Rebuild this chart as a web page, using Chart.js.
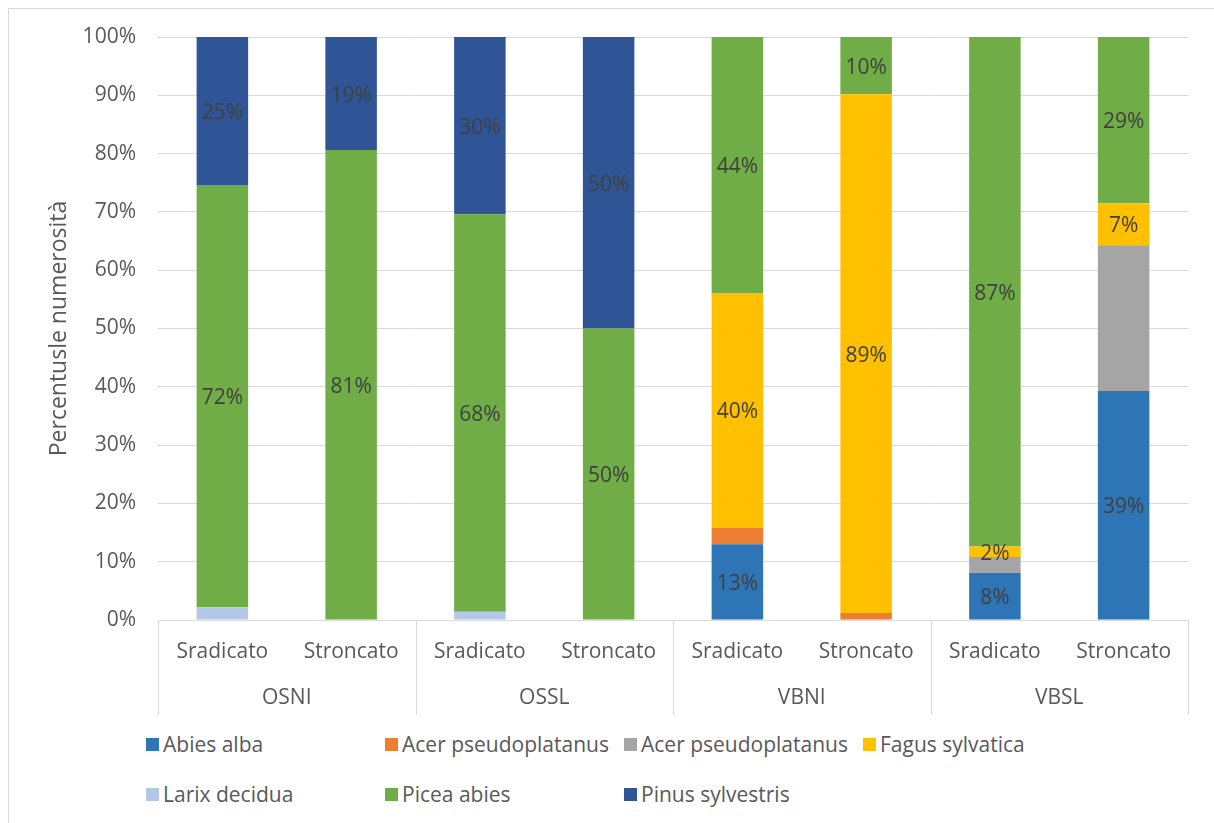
<!DOCTYPE html>
<html lang="it">
<head>
  <meta charset="UTF-8" />
  <title>Percentuale numerosità per specie</title>
  <script src="https://cdn.jsdelivr.net/npm/chart.js"></script>
  <style>
    body {
      margin: 0;
      background: #fff;
      font-family: 'Open Sans', sans-serif;
    }
    .page {
      position: relative;
      width: 1214px;
      height: 823px;
      overflow: hidden;
    }
    .frame {
      position: absolute;
      left: 8px;
      top: 8px;
      width: 1300px;
      height: 900px;
      border-left: 1px solid #d9d9d9;
      border-top: 1px solid #d9d9d9;
    }
    .chart-box {
      position: absolute;
      left: 0;
      top: 0;
      width: 1214px;
      height: 720px;
    }
    #legend {
      position: absolute;
      left: 146px;
      top: 730px;
      display: grid;
      grid-template-columns: repeat(4, 239px);
      row-gap: 22px;
      color: #595959;
      font-size: 21px;
    }
    #legend .item {
      display: flex;
      align-items: center;
      height: 28px;
      white-space: nowrap;
    }
    #legend .swatch {
      width: 13px;
      height: 13px;
      margin-right: 4px;
    }
  </style>
</head>
<body>
  <div class="page">
    <div class="frame"></div>
    <div class="chart-box"><canvas id="chart"></canvas></div>
    <div id="legend"></div>
  </div>

  <script>
    // Siti e tipo di danno
    const groups = ['OSNI', 'OSSL', 'VBNI', 'VBSL'];
    const damage = ['Sradicato', 'Stroncato'];
    const categories = groups.flatMap(() => damage);

    // Percentuali per specie (ordine: OSNI Sr, OSNI St, OSSL Sr, OSSL St, VBNI Sr, VBNI St, VBSL Sr, VBSL St)
    const abiesAlba    = [0, 0, 0, 0, 13.0, 0, 8.1, 39.3];
    const acerOrange   = [0, 0, 0, 0, 2.8, 1.2, 0, 0];
    const acerGray     = [0, 0, 0, 0, 0, 0, 2.7, 25.0];
    const fagus        = [0, 0, 0, 0, 40.3, 89.0, 1.8, 7.2];
    const larix        = [2.2, 0, 1.4, 0, 0, 0, 0, 0];
    const picea        = [72.4, 80.6, 68.2, 50, 43.9, 9.8, 87.4, 28.5];
    const pinus        = [25.4, 19.4, 30.4, 50, 0, 0, 0, 0];

    const yTicks = [0, 10, 20, 30, 40, 50, 60, 70, 80, 90, 100];

    const series = [
      { label: 'Abies alba',          data: abiesAlba,  color: '#2e75b6', labels: true },
      { label: 'Acer pseudoplatanus', data: acerOrange, color: '#ed7d31', labels: false },
      { label: 'Acer pseudoplatanus', data: acerGray,   color: '#a5a5a5', labels: false },
      { label: 'Fagus sylvatica',     data: fagus,      color: '#ffc000', labels: true },
      { label: 'Larix decidua',       data: larix,      color: '#b4c7e7', labels: false },
      { label: 'Picea abies',         data: picea,      color: '#70ad47', labels: true },
      { label: 'Pinus sylvestris',    data: pinus,      color: '#2f5597', labels: true }
    ];

    const FONT = "'Open Sans', sans-serif";

    // Etichette percentuali al centro dei segmenti
    const valueLabels = {
      id: 'valueLabels',
      afterDatasetsDraw(chart) {
        const ctx = chart.ctx;
        ctx.save();
        ctx.font = `21px ${FONT}`;
        ctx.fillStyle = '#404040';
        ctx.textAlign = 'center';
        ctx.textBaseline = 'middle';
        chart.data.datasets.forEach((ds, di) => {
          if (!series[di].labels) return;
          chart.getDatasetMeta(di).data.forEach((bar, i) => {
            const v = ds.data[i];
            if (!v) return;
            const y = (bar.y + bar.base) / 2 + 2;
            ctx.fillText(Math.round(v) + '%', bar.x, y);
          });
        });
        ctx.restore();
      }
    };

    // Secondo livello dell'asse x: siti e separatori
    const groupAxis = {
      id: 'groupAxis',
      afterDraw(chart) {
        const ctx = chart.ctx;
        const x = chart.scales.x;
        const step = (x.right - x.left) / categories.length * damage.length;
        ctx.save();
        ctx.strokeStyle = '#d9d9d9';
        ctx.lineWidth = 1;
        for (let k = 0; k <= groups.length; k++) {
          const px = Math.round(x.left + k * step) + 0.5;
          ctx.beginPath();
          ctx.moveTo(px, x.top);
          ctx.lineTo(px, x.top + 95);
          ctx.stroke();
        }
        ctx.font = `21px ${FONT}`;
        ctx.fillStyle = '#595959';
        ctx.textAlign = 'center';
        ctx.textBaseline = 'middle';
        groups.forEach((g, k) => {
          ctx.fillText(g, x.left + (k + 0.5) * step, x.top + 78);
        });
        ctx.restore();
      }
    };

    new Chart(document.getElementById('chart'), {
      type: 'bar',
      data: {
        labels: categories,
        datasets: series.map(s => ({
          label: s.label,
          data: s.data,
          backgroundColor: s.color,
          borderWidth: 0,
          categoryPercentage: 1,
          barPercentage: 0.4
        }))
      },
      options: {
        responsive: true,
        maintainAspectRatio: false,
        animation: false,
        layout: { padding: { top: 37, right: 26, bottom: 0, left: 0 } },
        plugins: {
          legend: { display: false },
          tooltip: { enabled: false }
        },
        scales: {
          x: {
            stacked: true,
            grid: { display: false, drawTicks: false },
            border: { display: true, color: '#d9d9d9', width: 1 },
            ticks: {
              color: '#595959',
              font: { family: FONT, size: 21 },
              padding: 19,
              maxRotation: 0,
              autoSkip: false
            },
            afterFit(scale) { scale.height = 100; }
          },
          y: {
            stacked: true,
            min: 0,
            max: 100,
            afterBuildTicks(scale) { scale.ticks = yTicks.map(v => ({ value: v })); },
            grid: { color: '#d9d9d9', lineWidth: 1, drawTicks: false },
            border: { display: false },
            ticks: {
              color: '#595959',
              font: { family: FONT, size: 21 },
              padding: 22,
              callback: v => v + '%'
            },
            title: {
              display: true,
              text: 'Percentusle numerosità',
              color: '#595959',
              font: { family: FONT, size: 23 },
              padding: { top: 46, bottom: 0 }
            },
            afterFit(scale) { scale.width = 158; }
          }
        }
      },
      plugins: [valueLabels, groupAxis]
    });

    // Legenda in griglia a quattro colonne
    const legend = document.getElementById('legend');
    series.forEach(s => {
      const item = document.createElement('div');
      item.className = 'item';
      item.innerHTML = `<span class="swatch" style="background:${s.color}"></span><span>${s.label}</span>`;
      legend.appendChild(item);
    });
  </script>
</body>
</html>
